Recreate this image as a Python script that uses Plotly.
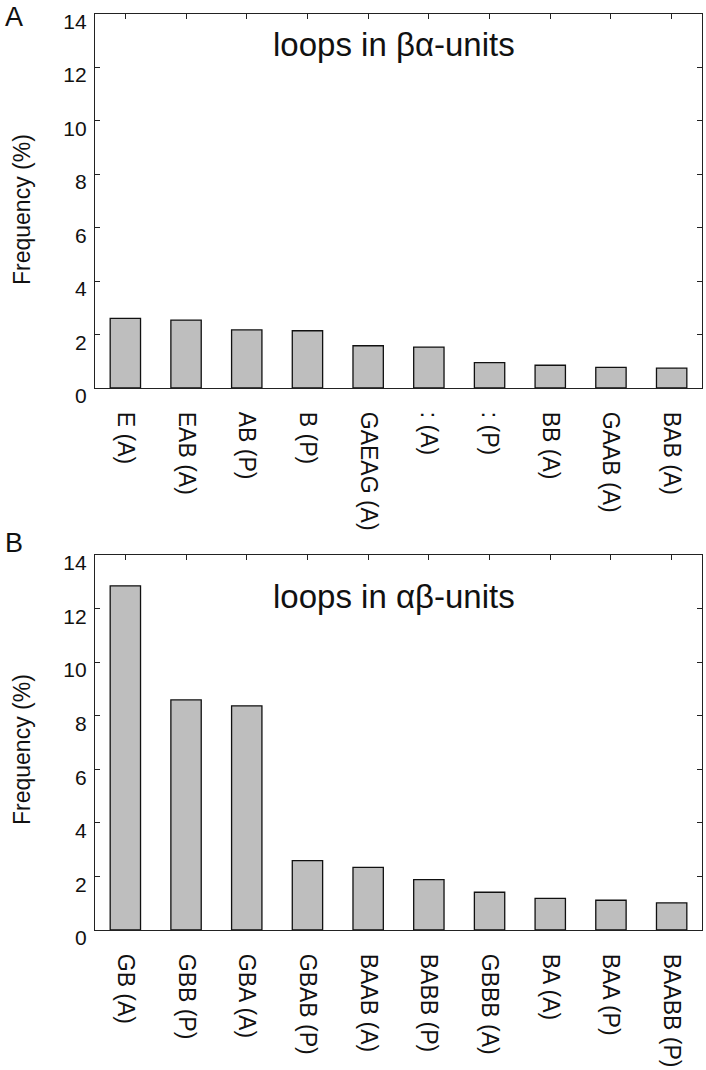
import plotly.graph_objects as go

# Data
cats_ba = ["E (A)", "EAB (A)", "AB (P)", "B (P)", "GAEAG (A)", ": (A)", ": (P)", "BB (A)", "GAAB (A)", "BAB (A)"]
vals_ba = [2.60, 2.54, 2.17, 2.14, 1.58, 1.53, 0.95, 0.85, 0.77, 0.74]

cats_ab = ["GB (A)", "GBB (P)", "GBA (A)", "GBAB (P)", "BAAB (A)", "BABB (P)", "GBBB (A)", "BA (A)", "BAA (P)", "BAABB (P)"]
vals_ab = [12.85, 8.59, 8.37, 2.59, 2.34, 1.88, 1.41, 1.18, 1.11, 1.01]

y_ticks = [0, 2, 4, 6, 8, 10, 12, 14]
titles = ["loops in βα-units", "loops in αβ-units"]
panel_letters = ["A", "B"]

W, H = 706, 1070
FONT = "Liberation Sans, Arial, Helvetica, sans-serif"

def px_x(x):
    return x / W

def px_y(y):
    return 1 - y / H

fig = go.Figure()

panels = [
    dict(cats=cats_ba, vals=vals_ba, top=13.5, bottom=388, xa="x", ya="y"),
    dict(cats=cats_ab, vals=vals_ab, top=555, bottom=930, xa="x2", ya="y2"),
]

for i, p in enumerate(panels):
    fig.add_trace(go.Bar(
        x=list(range(len(p["cats"]))), y=p["vals"],
        marker=dict(color="#bebebe", line=dict(color="#111111", width=1.3)),
        xaxis=p["xa"], yaxis=p["ya"], showlegend=False, hoverinfo="skip",
    ))
    sfx = "" if i == 0 else "2"
    fig.update_layout(**{
        "xaxis" + sfx: dict(
            domain=[px_x(95), px_x(702)],
            range=[-0.5, 9.5],
            tickmode="array", tickvals=list(range(len(p["cats"]))), ticktext=p["cats"],
            tickangle=90, ticks="inside", ticklen=5, tickwidth=1, tickcolor="#222",
            showline=True, linecolor="#222", linewidth=1.3, mirror="ticks",
            showgrid=False, zeroline=False, layer="below traces",
            tickfont=dict(family=FONT, size=23, color="#111"),
            ticklabelstandoff=18, ticklabeloverflow="allow", automargin=False,
            anchor="y" + sfx,
        ),
        "yaxis" + sfx: dict(
            domain=[px_y(p["bottom"]), px_y(p["top"])],
            range=[0, 14],
            tickmode="array", tickvals=y_ticks, ticktext=[str(v) for v in y_ticks],
            ticks="inside", ticklen=5, tickwidth=1, tickcolor="#222",
            showline=True, linecolor="#222", linewidth=1.3, mirror="ticks",
            showgrid=False, zeroline=False, layer="below traces",
            tickfont=dict(family=FONT, size=21, color="#111"),
            ticklabelshift=8, ticklabelstandoff=3, ticklabeloverflow="allow",
            automargin=False,
            anchor="x" + sfx,
        ),
    })

annotations = []
title_y = [45, 596]
ylab_y = [210, 750]
letter_y = [17.5, 543]
for i in range(2):
    annotations.append(dict(
        text=titles[i], x=px_x(394), y=px_y(title_y[i]), xref="paper", yref="paper",
        xanchor="center", yanchor="middle", showarrow=False,
        font=dict(family=FONT, size=33, color="#111"),
    ))
    annotations.append(dict(
        text="Frequency (%)", x=px_x(22), y=px_y(ylab_y[i]), xref="paper", yref="paper",
        xanchor="center", yanchor="middle", showarrow=False, textangle=-90,
        font=dict(family=FONT, size=23, color="#111"),
    ))
    annotations.append(dict(
        text=panel_letters[i], x=px_x(14), y=px_y(letter_y[i]), xref="paper", yref="paper",
        xanchor="center", yanchor="middle", showarrow=False,
        font=dict(family=FONT, size=27, color="#111"),
    ))

fig.update_layout(
    width=W, height=H,
    margin=dict(l=0, r=0, t=0, b=0),
    paper_bgcolor="white", plot_bgcolor="white",
    bargap=0.5,
    annotations=annotations,
    font=dict(family=FONT),
)

fig.write_html(
    "out.html",
    config={"displayModeBar": False},
    post_script="document.body.style.margin='0';document.body.style.overflow='hidden';",
)
